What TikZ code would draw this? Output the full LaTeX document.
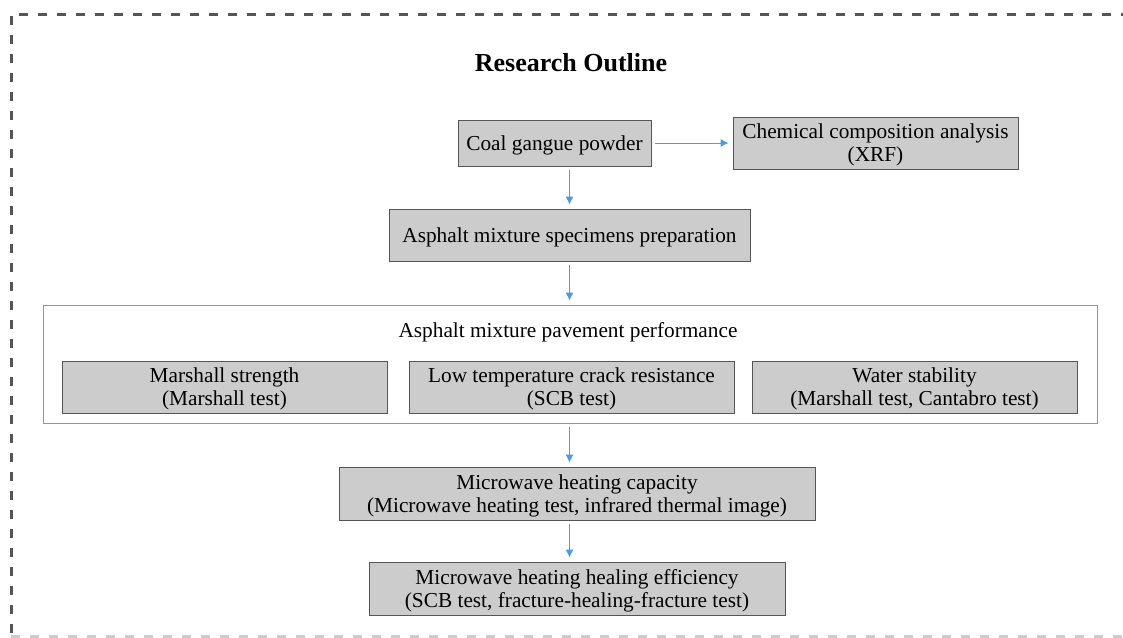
\documentclass[tikz,border=0pt]{standalone}
\usepackage{fontspec}
\setmainfont{Liberation Serif}
\usetikzlibrary{arrows.meta}
\definecolor{boxgray}{RGB}{204,204,204}
\definecolor{edgegray}{RGB}{85,85,85}
\definecolor{flowblue}{RGB}{70,155,240}
\definecolor{framegray}{RGB}{140,148,175}
\tikzset{
	stagebox/.style={draw=edgegray, fill=boxgray, line width=0.9pt, align=center, inner sep=0pt,
		text depth=-1.5pt, font=\fontsize{21.3}{23}\selectfont},
	flow/.style={-{Latex[length=8pt,width=8pt]}, flowblue, line width=0.9pt, shorten <=4pt, shorten >=4pt}
}
\begin{document}
\begin{tikzpicture}[x=1pt, y=-1pt]
	\useasboundingbox (0,0) rectangle (1123,637);
	% outer dashed frame
	\draw [edgegray, line width=3pt, dash pattern=on 9pt off 10pt] (1130,14) -- (11,14) -- (11,636);
	\draw [edgegray!30, line width=3pt, dash pattern=on 9pt off 10pt] (11,636) -- (1130,636);
	\node [font=\fontsize{26}{30}\selectfont\bfseries] (title) at (571,63) {Research Outline};
	% top stages
	\node [stagebox, minimum width=193pt, minimum height=46pt] (coal) at (554.5,143) {Coal gangue powder};
	\node [stagebox, minimum width=285pt, minimum height=52pt] (chem) at (875.5,143) {Chemical composition analysis\\(XRF)};
	\node [stagebox, minimum width=361pt, minimum height=52pt] (prep) at (569.5,235) {Asphalt mixture specimens preparation};
	% performance group
	\node [draw=framegray, line width=0.9pt, minimum width=1054pt, minimum height=118pt] (perf) at (570,364) {};
	\node [font=\fontsize{21.3}{23}\selectfont] (perftitle) at (568,332) {Asphalt mixture pavement performance};
	\node [stagebox, minimum width=325pt, minimum height=52pt] (marshall) at (224.5,387) {Marshall strength\\(Marshall test)};
	\node [stagebox, minimum width=325pt, minimum height=52pt] (crack) at (571.5,387) {Low temperature crack resistance\\(SCB test)};
	\node [stagebox, minimum width=325pt, minimum height=52pt] (water) at (914.5,387) {Water stability\\(Marshall test, Cantabro test)};
	% microwave stages
	\node [stagebox, minimum width=476pt, minimum height=53pt] (heat) at (577,493.5) {Microwave heating capacity\\(Microwave heating test, infrared thermal image)};
	\node [stagebox, minimum width=416pt, minimum height=53pt] (heal) at (577,588.5) {Microwave heating healing efficiency\\(SCB test, fracture-healing-fracture test)};
	% connectors
	\draw [flow] (coal.east) -- (chem.west);
	\draw [flow] (prep.north |- coal.south) -- (prep.north);
	\draw [flow] (prep.south) -- (prep.south |- perf.north);
	\draw [flow] (prep.south |- perf.south) -- (prep.south |- heat.north);
	\draw [flow] (prep.south |- heat.south) -- (prep.south |- heal.north);
\end{tikzpicture}
\end{document}
